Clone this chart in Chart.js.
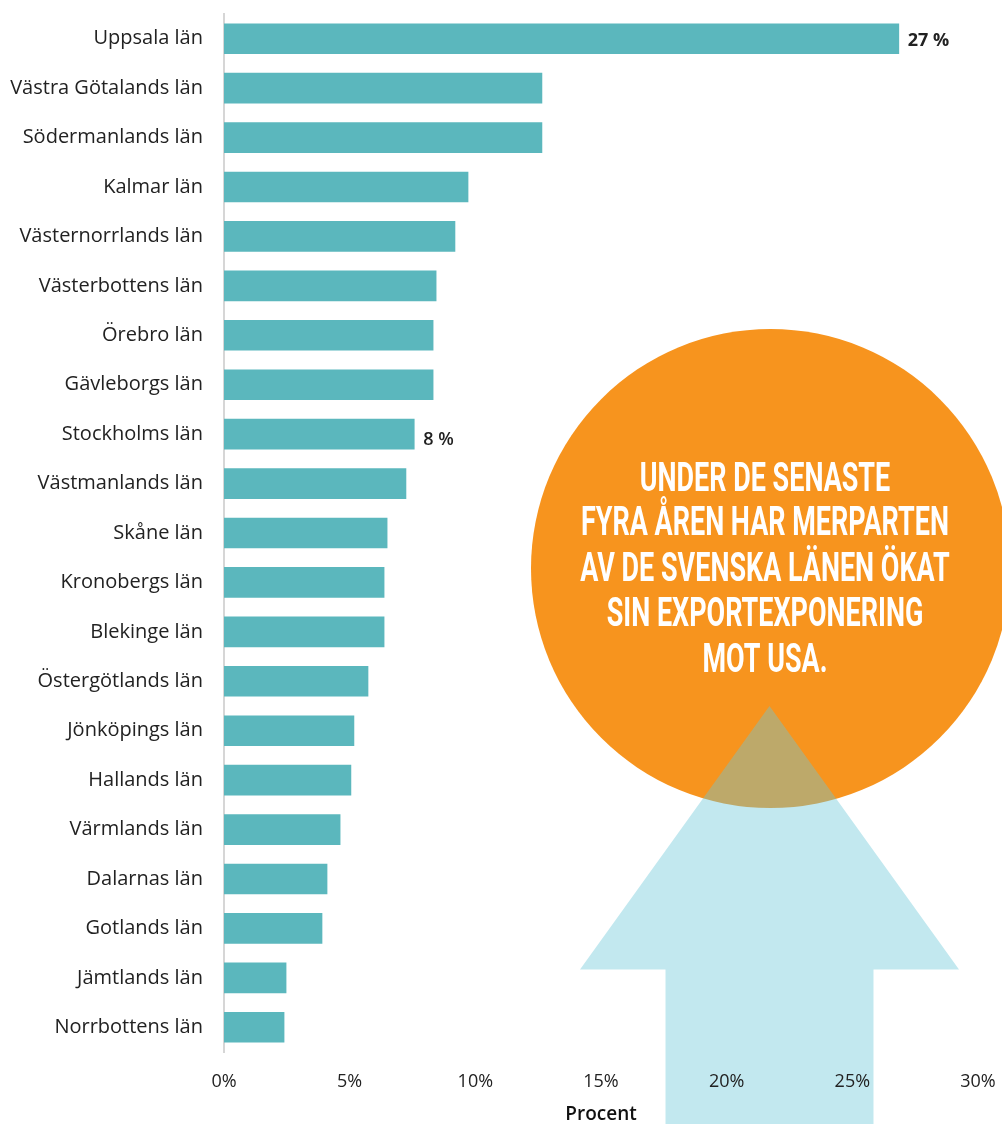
<!DOCTYPE html>
<html>
<head>
<meta charset="utf-8">
<script src="https://cdn.jsdelivr.net/npm/chart.js@4"></script>
<style>
html,body{margin:0;padding:0;background:#fff;}
#wrap{width:1002px;height:1124px;position:relative;}
</style>
</head>
<body>
<div id="wrap"><canvas id="c" width="1002" height="1124"></canvas></div>
<script>
const categories = ["Uppsala län","Västra Götalands län","Södermanlands län","Kalmar län","Västernorrlands län","Västerbottens län","Örebro län","Gävleborgs län","Stockholms län","Västmanlands län","Skåne län","Kronobergs län","Blekinge län","Östergötlands län","Jönköpings län","Hallands län","Värmlands län","Dalarnas län","Gotlands län","Jämtlands län","Norrbottens län"];
const values = [26.85,12.65,12.65,9.71,9.19,8.44,8.32,8.32,7.57,7.24,6.49,6.37,6.37,5.73,5.17,5.05,4.62,4.10,3.90,2.47,2.39];
const valueLabels = ["27 %",null,null,null,null,null,null,null,"8 %",null,null,null,null,null,null,null,null,null,null,null,null];
const xTicks = [0,5,10,15,20,25,30];
const xTitle = "Procent";
const calloutLines = ["UNDER DE SENASTE","FYRA ÅREN HAR MERPARTEN","AV DE SVENSKA LÄNEN ÖKAT","SIN EXPORTEXPONERING","MOT USA."];

const FONT = "'Open Sans', Lato, sans-serif";

function zeroPad(scale) {
  scale.paddingTop = 0; scale.paddingBottom = 0;
  scale.paddingLeft = 0; scale.paddingRight = 0;
}

const decor = {
  id: 'decor',
  beforeDraw(chart) {
    const ctx = chart.ctx;
    ctx.save();
    const cx = 770.5, cy = 568.5, r = 239.5;
    ctx.fillStyle = '#f7941e';
    ctx.beginPath(); ctx.arc(cx, cy, r, 0, Math.PI*2); ctx.fill();
    ctx.fillStyle = 'rgba(106,199,216,0.41)';
    ctx.beginPath();
    ctx.moveTo(769.5, 706);
    ctx.lineTo(959, 969.5);
    ctx.lineTo(873.5, 969.5);
    ctx.lineTo(873.5, 1124);
    ctx.lineTo(665.5, 1124);
    ctx.lineTo(665.5, 969.5);
    ctx.lineTo(580, 969.5);
    ctx.closePath();
    ctx.fill();
    ctx.fillStyle = '#ffffff';
    ctx.font = "bold 40px Roboto, 'DejaVu Sans', sans-serif";
    ctx.textAlign = 'center';
    ctx.textBaseline = 'alphabetic';
    const ref = ctx.measureText(calloutLines[1]).width;
    const sx = 368 / ref;
    const baseY = [491, 535, 581, 626, 672];
    calloutLines.forEach((t, i) => {
      ctx.save();
      ctx.translate(765, baseY[i]);
      ctx.scale(sx, 1);
      ctx.fillText(t, 0, 0);
      ctx.restore();
    });
    ctx.restore();
  },
  afterDatasetsDraw(chart) {
    const ctx = chart.ctx;
    const meta = chart.getDatasetMeta(0);
    ctx.save();
    ctx.fillStyle = '#222';
    ctx.textAlign = 'left';
    ctx.textBaseline = 'middle';
    meta.data.forEach((bar, i) => {
      const t = valueLabels[i];
      if (!t) return;
      ctx.font = (i === 0 ? 'bold ' : '600 ') + "18px " + FONT;
      ctx.fillText(t, bar.x + 9, bar.y + (i === 0 ? 2 : 6));
    });
    ctx.restore();
  }
};

new Chart(document.getElementById('c'), {
  type: 'bar',
  data: {
    labels: categories,
    datasets: [{
      data: values,
      backgroundColor: '#5bb7bd',
      borderWidth: 0,
      barThickness: 30
    }]
  },
  options: {
    indexAxis: 'y',
    responsive: false,
    devicePixelRatio: 1,
    animation: false,
    layout: { padding: { top: 14, right: 24, left: 0, bottom: 0 } },
    plugins: { legend: { display: false }, tooltip: { enabled: false } },
    scales: {
      x: {
        min: 0, max: 30,
        afterBuildTicks(scale) { scale.ticks = xTicks.map(v => ({ value: v })); },
        afterFit(scale) { scale.height = 72; zeroPad(scale); },
        grid: { display: false, drawTicks: false },
        border: { display: false },
        ticks: {
          padding: 19,
          color: '#222',
          font: { family: FONT, size: 18 },
          callback: v => v + '%'
        },
        title: {
          display: true, text: xTitle, color: '#111',
          font: { family: FONT, size: 19, weight: '600', lineHeight: 1 },
          padding: { top: 0, bottom: 0 }
        }
      },
      y: {
        afterFit(scale) { scale.width = 224; zeroPad(scale); },
        grid: { display: false, drawTicks: false },
        border: { display: true, color: '#d6d6d6', width: 2 },
        ticks: {
          padding: 21,
          color: '#222',
          font: { family: FONT, size: 20 }
        }
      }
    }
  },
  plugins: [decor]
});
</script>
</body>
</html>
